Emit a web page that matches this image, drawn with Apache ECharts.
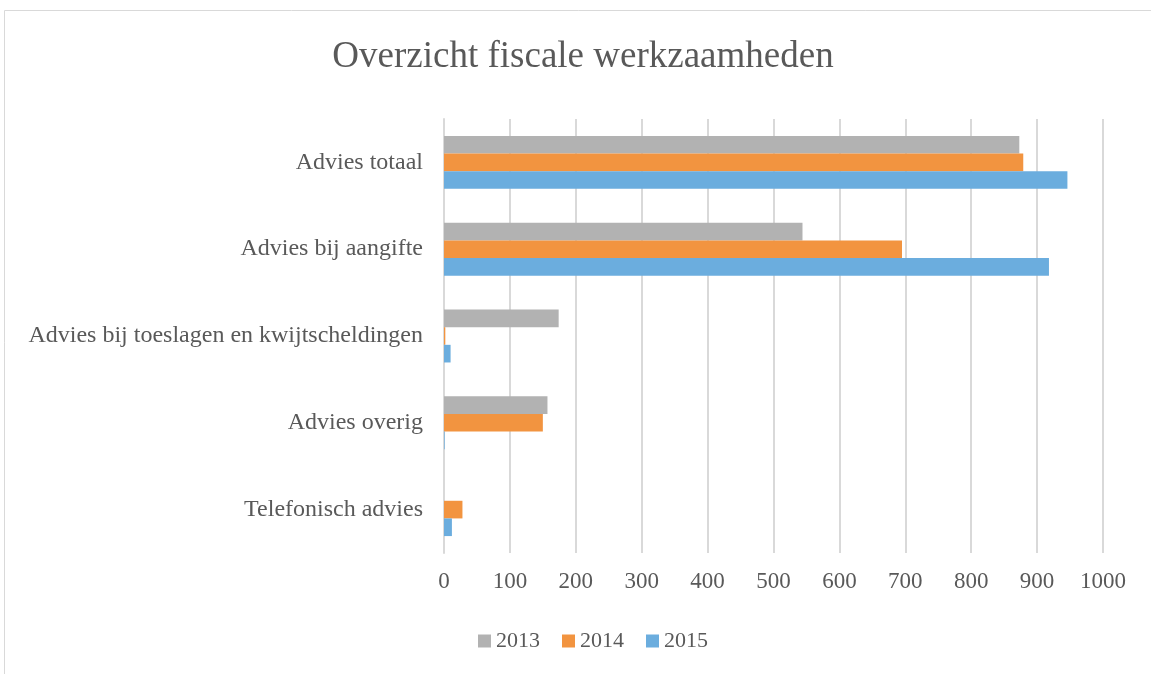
<!DOCTYPE html>
<html>
<head>
<meta charset="utf-8">
<script src="https://cdn.jsdelivr.net/npm/echarts@6/dist/echarts.min.js"></script>
<style>
  html, body { margin: 0; padding: 0; background: #fff; }
  #chart { width: 1151px; height: 674px; }
</style>
</head>
<body>
<div id="chart"></div>
<script>
var categories = ['Advies totaal', 'Advies bij aangifte', 'Advies bij toeslagen en kwijtscheldingen', 'Advies overig', 'Telefonisch advies'];
var years = ['2013', '2014', '2015'];
var values2013 = [873, 544, 174, 157, 0];
var values2014 = [879, 695, 2, 150, 28];
var values2015 = [946, 918, 10, 1, 12];
var colors = ['#b2b2b2', '#f29440', '#6badde'];

var myChart = echarts.init(document.getElementById('chart'));

var font = '"Liberation Serif", "Times New Roman", serif';

var option = {
    animation: false,
    textStyle: { fontFamily: font },
    title: {
        text: 'Overzicht fiscale werkzaamheden',
        left: 578,
        textAlign: 'center',
        top: 34,
        textStyle: { fontFamily: font, fontSize: 37, fontWeight: 'normal', color: '#595959' }
    },
    legend: {
        data: years,
        bottom: 17,
        left: 473,
        itemWidth: 13,
        itemHeight: 13,
        itemGap: 22,
        icon: 'rect',
        textStyle: { fontFamily: font, fontSize: 22, color: '#595959' }
    },
    grid: { left: 444, right: 48, top: 119, bottom: 121 },
    xAxis: {
        type: 'value',
        min: 0,
        max: 1000,
        interval: 100,
        axisLine: { show: false },
        axisTick: { show: false },
        axisLabel: {
            fontFamily: font, fontSize: 23, color: '#595959', margin: 17,
            formatter: function (v) { return String(v); }
        },
        splitLine: { lineStyle: { color: '#d9d9d9', width: 2 } }
    },
    yAxis: {
        type: 'category',
        data: categories,
        inverse: true,
        axisLine: { show: true, lineStyle: { color: '#d9d9d9', width: 2 } },
        axisTick: { show: false },
        axisLabel: { fontFamily: font, fontSize: 24, color: '#595959', margin: 21, padding: [6, 0, 0, 0] }
    },
    graphic: [{
        type: 'rect',
        shape: { x: 4.5, y: 10.5, width: 1200, height: 700 },
        style: { fill: 'none', stroke: '#d9d9d9', lineWidth: 1 },
        silent: true
    }],
    series: [
        { name: '2013', type: 'bar', data: values2013, itemStyle: { color: colors[0] }, barGap: '0%', barCategoryGap: '39%' },
        { name: '2014', type: 'bar', data: values2014, itemStyle: { color: colors[1] } },
        { name: '2015', type: 'bar', data: values2015, itemStyle: { color: colors[2] } }
    ]
};

myChart.setOption(option);
</script>
</body>
</html>
